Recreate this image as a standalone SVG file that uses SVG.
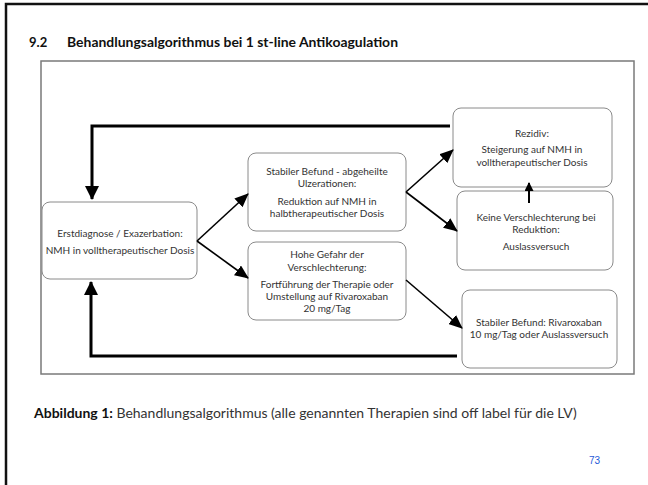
<svg xmlns="http://www.w3.org/2000/svg" width="648" height="485" viewBox="0 0 648 485">
<defs>
<style>
.page{fill:none;stroke:#111;stroke-width:2.5}
.frame{fill:none;stroke:#7a7a7a;stroke-width:1.5}
.box{fill:#fff;stroke:#8a8a8a;stroke-width:1}
.t{font-family:Lato,"Liberation Sans",sans-serif;font-size:10px;fill:#333;text-anchor:middle}
.thick{fill:none;stroke:#000;stroke-width:3}
.thin{fill:none;stroke:#000;stroke-width:1.6}
.title{font-family:Lato,"Liberation Sans",sans-serif;font-size:13px;font-weight:bold;fill:#111}
.cap{font-family:Lato,"Liberation Sans",sans-serif;font-size:14px;fill:#333}
</style>
<marker id="ah" markerUnits="userSpaceOnUse" markerWidth="14" markerHeight="12" refX="13" refY="6" orient="auto">
<path d="M0,0 L14,6 L0,12 Z" fill="#000"/>
</marker>
<marker id="ahb" markerUnits="userSpaceOnUse" markerWidth="14" markerHeight="14" refX="13" refY="7" orient="auto">
<path d="M0,0 L14,7 L0,14 Z" fill="#000"/>
</marker>
<marker id="ahs" markerUnits="userSpaceOnUse" markerWidth="9" markerHeight="9" refX="8" refY="4.5" orient="auto">
<path d="M0,0 L9,4.5 L0,9 Z" fill="#000"/>
</marker>
</defs>
<rect x="0" y="0" width="648" height="485" fill="#fff"/>
<path class="page" d="M6,486 V4 H649"/>
<text class="title" x="29" y="47">9.2</text>
<text class="title" x="67" y="47" textLength="331" lengthAdjust="spacingAndGlyphs">Behandlungsalgorithmus bei 1 st-line Antikoagulation</text>
<rect class="frame" x="41" y="61" width="593" height="313"/>

<g id="n1">
<rect class="box" x="42" y="202" width="155" height="77" rx="8"/>
<text class="t" x="120" y="237">Erstdiagnose / Exazerbation:</text>
<text class="t" x="120" y="254">NMH in volltherapeutischer Dosis</text>
</g>
<g id="n2">
<rect class="box" x="248" y="153" width="158" height="78" rx="8"/>
<text class="t" x="327" y="175">Stabiler Befund - abgeheilte</text>
<text class="t" x="327" y="187">Ulzerationen:</text>
<text class="t" x="327" y="205">Reduktion auf NMH in</text>
<text class="t" x="327" y="217">halbtherapeutischer Dosis</text>
</g>
<g id="n3">
<rect class="box" x="248" y="242" width="158" height="78" rx="8"/>
<text class="t" x="327" y="258">Hohe Gefahr der</text>
<text class="t" x="327" y="271">Verschlechterung:</text>
<text class="t" x="327" y="288">Fortführung der Therapie oder</text>
<text class="t" x="327" y="300">Umstellung auf Rivaroxaban</text>
<text class="t" x="327" y="312">20 mg/Tag</text>
</g>
<g id="n4">
<rect class="box" x="453" y="108" width="159" height="79" rx="8"/>
<text class="t" x="532" y="137">Rezidiv:</text>
<text class="t" x="532" y="153">Steigerung auf  NMH in</text>
<text class="t" x="532" y="166">volltherapeutischer Dosis</text>
</g>
<g id="n5">
<rect class="box" x="457" y="191" width="156" height="79" rx="8"/>
<text class="t" x="536" y="221">Keine Verschlechterung bei</text>
<text class="t" x="536" y="233">Reduktion:</text>
<text class="t" x="536" y="250">Auslassversuch</text>
</g>
<g id="n6">
<rect class="box" x="462" y="290" width="155" height="78" rx="8"/>
<text class="t" x="539" y="326">Stabiler Befund: Rivaroxaban</text>
<text class="t" x="539" y="338">10 mg/Tag oder Auslassversuch</text>
</g>

<g id="connectors">
<path class="thick" d="M450,126 H92 V199" marker-end="url(#ahb)"/>
<path class="thick" d="M457,356 H91 V282" marker-end="url(#ahb)"/>
<line class="thin" x1="197" y1="241" x2="248" y2="194" marker-end="url(#ah)"/>
<line class="thin" x1="197" y1="241" x2="248" y2="278" marker-end="url(#ah)"/>
<line class="thin" x1="406" y1="192" x2="453" y2="150" marker-end="url(#ah)"/>
<line class="thin" x1="406" y1="192" x2="457" y2="231" marker-end="url(#ah)"/>
<line class="thin" x1="406" y1="280" x2="462" y2="328" marker-end="url(#ah)"/>
<line x1="529" y1="203" x2="529" y2="183" stroke="#000" stroke-width="2" marker-end="url(#ahs)"/>
</g>

<text class="cap" x="34" y="418"><tspan font-weight="bold" fill="#111">Abbildung 1:</tspan> Behandlungsalgorithmus (alle genannten Therapien sind off label für die LV)</text>
<text x="589" y="464" font-family="Liberation Sans,Arial,sans-serif" font-size="10" fill="#1f5bd8">73</text>
</svg>
